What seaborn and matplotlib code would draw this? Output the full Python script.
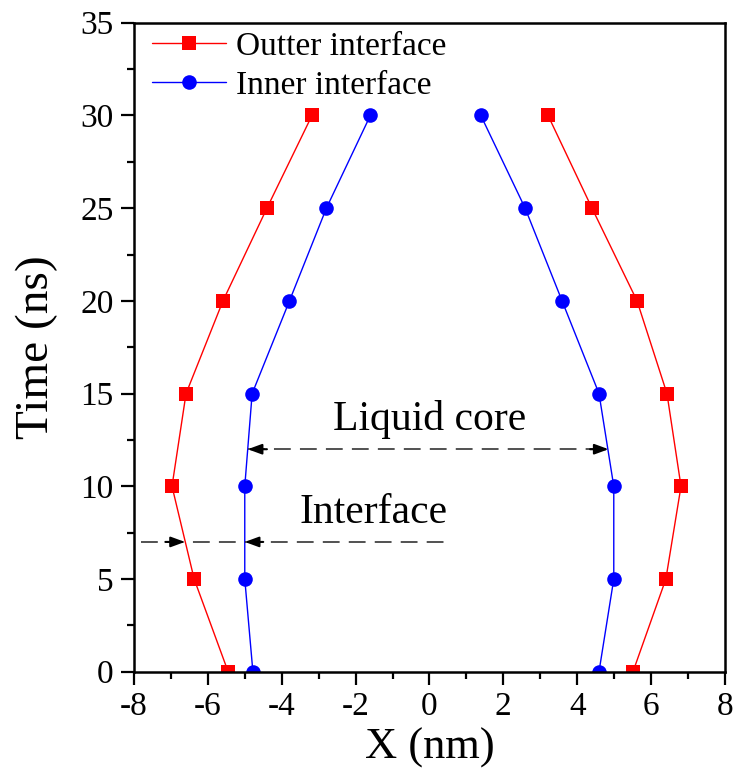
import matplotlib
matplotlib.use("Agg")
import matplotlib.pyplot as plt
import seaborn as sns
import pandas as pd
from matplotlib.ticker import MultipleLocator

# ---- data ----
time_ns = [0, 5, 10, 15, 20, 25, 30]
outer_left = [-5.45, -6.37, -6.97, -6.59, -5.59, -4.40, -3.18]
outer_right = [5.51, 6.40, 6.81, 6.43, 5.62, 4.40, 3.21]
inner_left = [-4.78, -5.00, -5.00, -4.80, -3.79, -2.79, -1.60]
inner_right = [4.59, 4.99, 4.99, 4.59, 3.59, 2.59, 1.39]
series_names = ["Outter interface", "Inner interface"]
x_ticks = [-8, -6, -4, -2, 0, 2, 4, 6, 8]
y_ticks = [0, 5, 10, 15, 20, 25, 30, 35]

rows = []
for name, left, right in [(series_names[0], outer_left, outer_right),
                          (series_names[1], inner_left, inner_right)]:
    for side, vals in [("left", left), ("right", right)]:
        for t, v in zip(time_ns, vals):
            rows.append({"series": name, "side": side, "x": v, "time": t})
df = pd.DataFrame(rows)

sns.set_style("ticks")
plt.rcParams["font.family"] = ["Liberation Serif", "DejaVu Serif"]
plt.rcParams["text.color"] = "black"
plt.rcParams["axes.labelcolor"] = "black"
plt.rcParams["xtick.color"] = "black"
plt.rcParams["ytick.color"] = "black"

fig = plt.figure(figsize=(7.36, 7.73), dpi=100)
ax = fig.add_axes([0.182, 0.131, 0.803, 0.8396])

styles = {series_names[0]: dict(color="#FF0000", marker="s", ms=9.5),
          series_names[1]: dict(color="#0000FF", marker="o", ms=10.5)}

for name in series_names:
    st = styles[name]
    for side in ["left", "right"]:
        sub = df[(df.series == name) & (df.side == side)]
        sns.lineplot(data=sub, x="x", y="time", sort=False, estimator=None,
                     ax=ax, color=st["color"], marker=st["marker"],
                     markersize=st["ms"], markeredgewidth=0, linewidth=1,
                     label=name if side == "left" else None)

# annotation lines
ax.plot([-4.92, 4.85], [12, 12], color="#222222", lw=1.1, dashes=(11, 6))
ax.plot([-7.81, 0.53], [7, 7], color="#222222", lw=1.1, dashes=(11, 6))

def arrow(tip, base, y):
    ax.annotate("", xy=(tip, y), xytext=(base, y),
                arrowprops=dict(arrowstyle="-|>,head_length=0.6,head_width=0.22",
                                color="black", lw=1.5, shrinkA=0, shrinkB=0,
                                mutation_scale=14))

arrow(-4.92, -4.4, 12)
arrow(4.85, 4.35, 12)
arrow(-6.62, -7.15, 7)
arrow(-5.0, -4.5, 7)

ax.text(0.0, 13.6, "Liquid core", fontsize=30, ha="center", va="center")
ax.text(-1.5, 8.55, "Interface", fontsize=30, ha="center", va="center")

ax.set_xlim(-8, 8)
ax.set_ylim(0, 35)
ax.set_xticks(x_ticks)
ax.set_yticks(y_ticks)
ax.set_xticklabels([str(v) for v in x_ticks])
ax.xaxis.set_minor_locator(MultipleLocator(1))
ax.yaxis.set_minor_locator(MultipleLocator(2.5))
ax.tick_params(axis="both", which="major", direction="out", length=9.5,
               width=1.6, labelsize=24, colors="black", pad=5)
ax.tick_params(axis="both", which="minor", direction="out", length=5,
               width=1.6)
ax.tick_params(top=False, right=False, which="both")
for sp in ax.spines.values():
    sp.set_visible(True)
    sp.set_linewidth(1.8)
    sp.set_color("black")

ax.set_xlabel("X (nm)", fontsize=32, labelpad=4)
ax.set_ylabel("Time (ns)", fontsize=34, labelpad=16)

leg = ax.legend(loc="upper left", frameon=False, fontsize=24, handlelength=2.2,
                handletextpad=0.3, borderaxespad=0.15, labelspacing=0.25,
                numpoints=1, bbox_to_anchor=(0.0, 1.015))

fig.savefig("out.png", dpi=100)
